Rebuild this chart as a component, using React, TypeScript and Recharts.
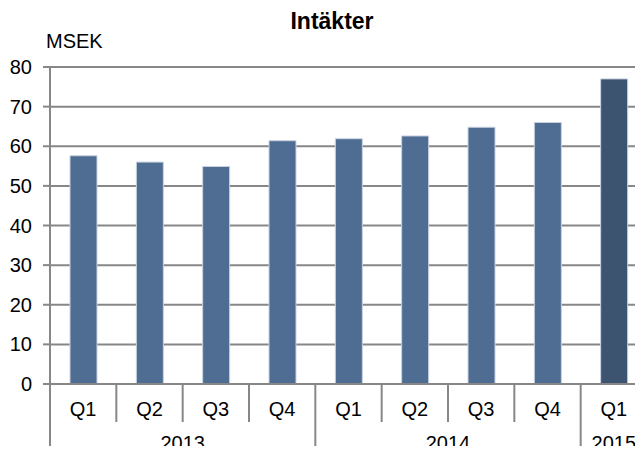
import React from 'react';
import { BarChart, Bar, XAxis, YAxis, CartesianGrid, Cell } from 'recharts';

const quarters = ['Q1', 'Q2', 'Q3', 'Q4', 'Q1', 'Q2', 'Q3', 'Q4', 'Q1'];
const years = ['2013', '2013', '2013', '2013', '2014', '2014', '2014', '2014', '2015'];
const revenue = [57.6, 56.0, 54.9, 61.4, 61.9, 62.6, 64.8, 66.0, 77.0];
const yTicks = [0, 10, 20, 30, 40, 50, 60, 70, 80];

const BAR = '#4f6d93';
const BAR_LAST = '#3d5470';
const GRID = '#878787';
const FONT = '"Liberation Sans", Arial, sans-serif';

const data = quarters.map((q, i) => ({ key: `${years[i]}-${q}`, q, year: years[i], value: revenue[i] }));

const QuarterTick = (props: any) => {
  const { x, y, payload, index } = props;
  const off = payload.offset || 33.15;
  const left = x - off;
  const isYearStart = index === 0 || years[index] !== years[index - 1];
  let yearLabel = null;
  if (isYearStart) {
    let n = 0;
    while (index + n < years.length && years[index + n] === years[index]) n++;
    yearLabel = (
      <text x={left + n * off} y={y + 66} textAnchor="middle" fontSize={20} fill="#000" fontFamily={FONT}>
        {years[index]}
      </text>
    );
  }
  return (
    <g>
      <line x1={left} x2={left} y1={y} y2={isYearStart ? y + 70 : y + 38} stroke={GRID} strokeWidth={2} />
      <text x={x} y={y + 32} textAnchor="middle" fontSize={20} fill="#000" fontFamily={FONT}>
        {quarters[index]}
      </text>
      {yearLabel}
    </g>
  );
};

export default function App() {
  return (
    <div style={{ margin: -8, width: 643, height: 454, overflow: 'hidden', position: 'relative', background: '#fff' }}>
      <BarChart
        width={647}
        height={454}
        data={data}
        margin={{ top: 67, right: 0, bottom: 0, left: 0 }}
        barSize={27}
      >
        <CartesianGrid vertical={false} stroke={GRID} strokeWidth={2} />
        <XAxis
          dataKey="key"
          height={70}
          axisLine={{ stroke: GRID, strokeWidth: 2 }}
          tickLine={false}
          tickSize={0}
          tickMargin={0}
          interval={0}
          tick={<QuarterTick />}
        />
        <YAxis
          width={50}
          domain={[0, 80]}
          ticks={yTicks}
          interval={0}
          axisLine={{ stroke: GRID, strokeWidth: 2 }}
          tickLine={{ stroke: GRID, strokeWidth: 2 }}
          tickSize={7}
          tickMargin={11}
          tick={{ fontSize: 20, fill: '#000', fontFamily: FONT }}
        />
        <Bar dataKey="value" isAnimationActive={false} stroke="#c9d3e0" strokeWidth={1}>
          {data.map((d, i) => (
            <Cell key={d.key} fill={i === data.length - 1 ? BAR_LAST : BAR} />
          ))}
        </Bar>
      </BarChart>
      <svg width={643} height={60} style={{ position: 'absolute', left: 0, top: 0, pointerEvents: 'none' }}>
        <text x={332} y={29} textAnchor="middle" fontFamily={FONT} fontWeight="bold" fontSize={23} fill="#000">
          Intäkter
        </text>
        <text x={46} y={48} fontFamily={FONT} fontSize={20} fill="#000">
          MSEK
        </text>
      </svg>
    </div>
  );
}
